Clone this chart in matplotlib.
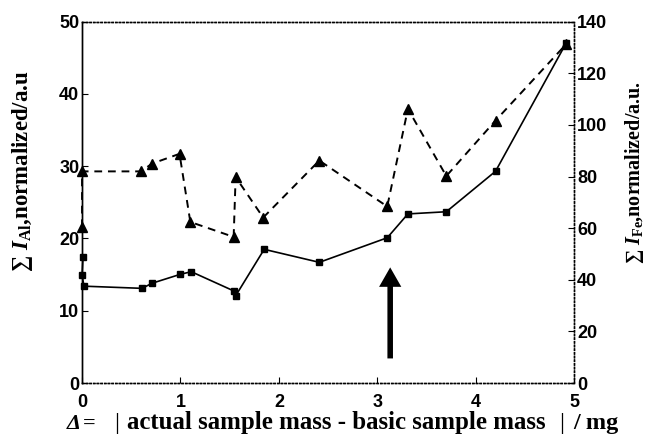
import matplotlib
matplotlib.use('Agg')
import matplotlib.pyplot as plt
from matplotlib.patches import FancyArrowPatch

plt.rcParams['font.family'] = ['Liberation Sans', 'DejaVu Sans']
plt.rcParams['mathtext.fontset'] = 'custom'
plt.rcParams['mathtext.rm'] = 'Liberation Serif:bold'
plt.rcParams['mathtext.it'] = 'Liberation Serif:bold:italic'
plt.rcParams['mathtext.bf'] = 'Liberation Serif:bold'

# Al intensity (left axis, squares, solid)
al_x = [0.01, 0.0, 0.02, 0.61, 0.71, 1.0, 1.11, 1.54, 1.56, 1.85, 2.41, 3.10, 3.31, 3.70, 4.20, 4.92]
al_y = [17.5, 14.9, 13.4, 13.1, 13.8, 15.05, 15.4, 12.75, 12.06, 18.5, 16.7, 20.1, 23.4, 23.7, 29.3, 47.1]

# Fe intensity (right axis, triangles, dashed)
fe_x = [0.0, 0.0, 0.60, 0.71, 0.99, 1.10, 1.54, 1.56, 1.84, 2.41, 3.10, 3.31, 3.70, 4.20, 4.92]
fe_y = [60.4, 82.0, 82.0, 85.0, 88.8, 62.4, 56.6, 79.8, 64.1, 86.2, 68.4, 106.2, 80.2, 101.7, 131.4]

left_ticks = [0, 10, 20, 30, 40, 50]
right_ticks = [0, 20, 40, 60, 80, 100, 120, 140]
x_ticks = [0, 1, 2, 3, 4, 5]

W, H = 646, 434
fig = plt.figure(figsize=(W / 100, H / 100), dpi=100)
ax = fig.add_axes([0.127, 0.1175, 0.762, 0.8325])
ax2 = ax.twinx()

ax.plot(al_x, al_y, '-', color='black', lw=1.2, marker='s', ms=5, clip_on=False, zorder=3)
ax2.plot(fe_x, fe_y, '--', color='black', lw=1.4, dashes=(4, 3), marker='^', ms=7, clip_on=False, zorder=3)

ax.set_xlim(0, 5)
ax.set_ylim(0, 50)
ax2.set_ylim(0, 140)
ax.set_xticks(x_ticks)
ax.set_yticks(left_ticks)
ax2.set_yticks(right_ticks)

for a in (ax, ax2):
    a.tick_params(direction='in', length=4, width=0.8, labelsize=13, pad=2)
    for lab in a.get_xticklabels() + a.get_yticklabels():
        lab.set_fontweight('bold')
    for s in ('top', 'right', 'bottom'):
        a.spines[s].set_linestyle(':')
        a.spines[s].set_linewidth(1.0)
    a.spines['left'].set_linewidth(1.0)
ax.tick_params(axis='x', pad=8)

# arrow marking the chosen sample
arrow = FancyArrowPatch((3.13, 3.4), (3.13, 16.0),
                        arrowstyle='simple,head_length=0.7,head_width=0.8,tail_width=0.2',
                        mutation_scale=20, color='black', lw=0, shrinkA=0, shrinkB=0)
ax.add_patch(arrow)

# axis titles
fig.text(23 / W, 1 - 171 / H, r'$\sum\ I_{\mathrm{Al}}$,normalized/a.u', rotation=90,
         ha='center', va='center', fontsize=16.5, fontweight='bold', family='Liberation Serif')
fig.text(634 / W, 1 - 172 / H, r'$\sum\ I_{\mathrm{Fe}}$,normalized/a.u.', rotation=90,
         ha='center', va='center', fontsize=14.5, fontweight='bold', family='Liberation Serif')

# x title, built from pieces to follow the wide spacing of the original
base = 5 / H
serif = dict(family='Liberation Serif', fontweight='bold', va='baseline')
fig.text(67 / W, base, 'Δ', ha='left', fontsize=16, style='italic', **serif)
fig.text(83 / W, base, '=', ha='left', fontsize=16, **serif)
fig.text(117 / W, base - 1 / H, '|', ha='center', fontsize=18, family='Liberation Serif', va='baseline')
mid = fig.text(127 / W, base, 'actual sample mass - basic sample mass', ha='left', fontsize=16, **serif)
fig.text(562 / W, base - 1 / H, '|', ha='center', fontsize=18, family='Liberation Serif', va='baseline')
fig.text(573 / W, base, '/ mg', ha='left', fontsize=17.5, **serif)

# scale the middle piece so it spans the same width as in the original
fig.canvas.draw()
w = mid.get_window_extent().width
mid.set_fontsize(16 * 420 / w)

plt.savefig('out.png', dpi=100, facecolor='white')
